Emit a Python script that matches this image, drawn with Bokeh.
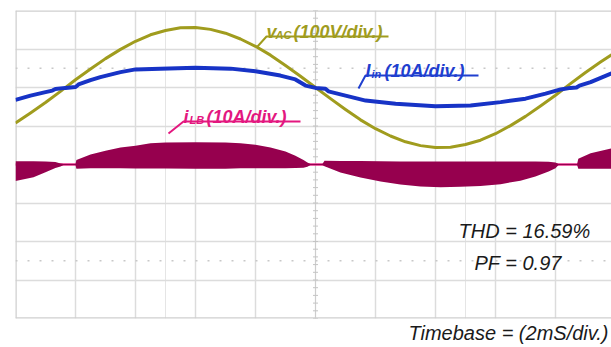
from bokeh.plotting import figure
from bokeh.models import Label, FixedTicker, Range1d, Grid, Span, Title
from bokeh.embed import file_html
from bokeh.resources import INLINE

# ---------------- data ----------------
# time in ms (2 ms/div)
vac_t = [0, 0.5, 1.0, 1.5, 2.0, 2.5, 3.0, 3.5, 4.0, 4.5, 5.0, 5.5, 6.0, 6.5, 7.0, 7.5,
         8.0, 8.5, 9.0, 9.5, 10.0, 10.5, 11.0, 11.5, 12.0, 12.5, 13.0, 13.5, 14.0, 14.5,
         15.0, 15.5, 16.0, 16.5, 17.0, 17.5, 18.0, 18.5, 19.0, 19.5, 19.87]
vac_v = [-92, -66, -39, -10, 20, 48, 75, 99, 120, 137, 148, 155, 156, 151, 141, 126,
         107, 84, 57, 29, 0, -29, -57, -84, -107, -126, -141, -151, -156, -155,
         -148, -137, -120, -99, -75, -48, -20, 10, 39, 66, 85]          # volts

iin_t = [0, 0.5, 1.0, 1.23, 1.33, 1.67, 2.0, 2.1, 2.5, 2.83, 3.5, 4.0, 4.83, 6.0, 7.17,
         8.0, 8.83, 9.33, 9.67, 10.0, 10.33, 10.43, 11.0, 11.67, 12.67, 14.0, 15.17,
         16.17, 17.0, 17.67, 18.17, 18.5, 18.7, 18.8, 19.17, 19.87]
iin_a = [-3.2, -2.1, -1.2, -0.8, -0.4, -0.1, 0.1, 0.8, 1.9, 2.7, 4.0, 4.7, 4.9, 5.1, 4.9,
         4.2, 3.1, 2.1, 0.5, -0.1, -0.3, -1.0, -2.1, -3.4, -4.2, -4.9, -4.7,
         -3.8, -2.9, -1.6, -0.5, -0.1, 0.0, 0.5, 1.4, 3.7]              # amps

ilb_t = [0, 0.6, 1.0, 1.33, 1.5, 1.6, 2.0, 2.03, 2.5, 3.0, 3.5, 4.0, 4.5, 5.0, 6.0, 7.0,
         7.5, 8.0, 8.5, 9.0, 9.33, 9.6, 9.73, 9.83, 10.23, 10.3, 10.83, 11.5, 12.17,
         12.83, 13.5, 14.17, 14.83, 15.5, 16.17, 16.83, 17.33, 17.77, 18.0, 18.1,
         18.72, 18.76, 19.17, 19.87]
ilb_hi = [0.86, 0.86, 0.78, 0.65, 0.26, 0.15, 0.15, 1.2, 2.6, 3.6, 4.4, 4.9, 5.5, 5.7, 5.8, 5.7,
          5.5, 5.1, 4.4, 3.4, 2.3, 1.2, 0.5, 0.15, 0.15, 1.0, 0.9, 0.9, 0.85,
          0.8, 0.8, 0.8, 0.75, 0.75, 0.75, 0.75, 0.75, 0.7, 0.5, 0.15,
          0.15, 1.5, 2.9, 4.2]
ilb_lo = [-4.3, -3.3, -2.0, -0.9, -0.5, -0.15, -0.15, -1.1, -1.0, -1.0, -1.0, -1.05, -1.05, -1.05, -1.1, -1.1,
          -1.0, -1.0, -1.0, -0.95, -0.9, -0.85, -0.6, -0.15, -0.15, -0.45, -2.1, -3.4, -4.4,
          -5.2, -5.7, -5.9, -5.8, -5.6, -5.1, -4.2, -3.1, -1.8, -1.0, -0.15,
          -0.15, -1.1, -1.1, -1.1]

vac_label = ("v", "AC", "(100V/div.)")
iin_label = ("I", "in", "(10A/div.)")
ilb_label = ("i", "LB", "(10A/div.)")
thd_text = "THD = 16.59%"
pf_text = "PF = 0.97"
timebase_text = "Timebase = (2mS/div.)"

# channel settings (div offset, units per div)
VAC_OFF, VAC_SCALE = 2.0, 100.0
IIN_OFF, IIN_SCALE = 2.0, 10.0
ILB_OFF, ILB_SCALE = 0.0, 10.0

# ---------------- layout helpers ----------------
W, H = 611, 347
FRAME_L, FRAME_T, FRAME_B = 15, 10, 318
PX_PER_MS, PX_PER_DIV, Y0 = 30.0, 38.5, 164


def px2x(px):
    return (px - FRAME_L) / PX_PER_MS


def px2y(py):
    return (Y0 - py) / PX_PER_DIV


p = figure(width=W, height=H, x_range=Range1d(0, (W - FRAME_L) / PX_PER_MS),
           y_range=Range1d(-4, 4), output_backend="svg", toolbar_location=None,
           x_axis_location=None, y_axis_location=None,
           min_border_left=FRAME_L, min_border_right=0, min_border_top=FRAME_T,
           min_border_bottom=H - FRAME_B)
p.outline_line_color = None
p.background_fill_color = "white"

GRID = "#dcdcdc"
p.add_layout(Grid(dimension=0, ticker=FixedTicker(ticks=[2, 4, 6, 8, 12, 14, 16, 18]),
                  grid_line_color=GRID, grid_line_width=1.5))
p.add_layout(Grid(dimension=1, ticker=FixedTicker(ticks=[-3, -2, -1, 0, 1, 2, 3]),
                  grid_line_color=GRID, grid_line_width=1.5))
# frame border (left, top, bottom)
for loc, dim in [(0, "height"), (4, "width"), (-4, "width")]:
    p.add_layout(Span(location=loc, dimension=dim, line_color="#cfcfcf", line_width=2.5, level="underlay"))
# centre vertical axis with minor ticks
p.add_layout(Span(location=10, dimension="height", line_color="#cdcdcd", line_width=1.2, level="underlay"))
tick_y = [-4 + 0.2 * k for k in range(41)]
p.scatter(x=[10] * len(tick_y), y=tick_y, marker="dash", size=5, line_color="#c4c4c4", line_width=1)
# dotted reference lines
for loc in (2.5, -2.5):
    p.add_layout(Span(location=loc, dimension="width", line_color="#c8c8c8", line_width=1.5,
                      line_dash="2 10", level="underlay"))

# ---------------- traces ----------------
C_VAC = "#a09c1e"
C_IIN = "#1733c6"
C_ILB = "#96004e"
C_ILB_TXT = "#e3177f"

x_end = max(ilb_t)
p.line(x=[0, x_end], y=[ILB_OFF, ILB_OFF], line_color="#e8308c", line_width=2.5)
p.varea(x=ilb_t, y1=[ILB_OFF + v / ILB_SCALE for v in ilb_lo],
        y2=[ILB_OFF + v / ILB_SCALE for v in ilb_hi], fill_color=C_ILB)

p.line(x=vac_t, y=[VAC_OFF + v / VAC_SCALE for v in vac_v], line_color=C_VAC, line_width=3,
       line_join="round")
p.line(x=iin_t, y=[IIN_OFF + v / IIN_SCALE for v in iin_a], line_color=C_IIN, line_width=4,
       line_join="round")

# ---------------- labels ----------------
FONT = "Liberation Sans"


def channel_label(parts, x0, base, sub_dx, main_dx, color, lead, line_end):
    main, sub, rest = parts
    p.add_layout(Label(x=px2x(x0), y=px2y(base), text=main, text_color=color, text_font=FONT,
                       text_font_size="18px", text_font_style="bold italic", text_baseline="alphabetic"))
    p.add_layout(Label(x=px2x(x0 + sub_dx), y=px2y(base + 2.5), text=sub, text_color=color, text_font=FONT,
                       text_font_size="11px", text_font_style="bold italic", text_baseline="alphabetic"))
    p.add_layout(Label(x=px2x(x0 + main_dx), y=px2y(base), text=rest, text_color=color, text_font=FONT,
                       text_font_size="18px", text_font_style="bold italic", text_baseline="alphabetic"))
    lx, ly = lead
    ul_y = base + 4.5
    p.line(x=[px2x(lx), px2x(x0), px2x(line_end)], y=[px2y(ly), px2y(ul_y), px2y(ul_y)],
           line_color=color, line_width=2)


channel_label(vac_label, 266, 31.5, 9, 27, C_VAC, (257, 46), 388)
channel_label(iin_label, 365, 70.5, 6, 19, "#1f3fcf", (358, 88), 478)
channel_label(ilb_label, 183, 116.5, 6, 23, C_ILB_TXT, (168, 133), 300)

for txt, x0, base in [(thd_text, 458, 230), (pf_text, 474, 262.5)]:
    p.add_layout(Label(x=px2x(x0), y=px2y(base), text=txt, text_color="#1a1a1a", text_font=FONT,
                       text_font_size="20px", text_font_style="italic", text_baseline="alphabetic"))
p.add_layout(Title(text=timebase_text, align="right", offset=3, standoff=2, text_color="#1a1a1a",
                   text_font=FONT, text_font_size="20px", text_font_style="italic"), "below")

open("out.html", "w").write(file_html(p, INLINE))
